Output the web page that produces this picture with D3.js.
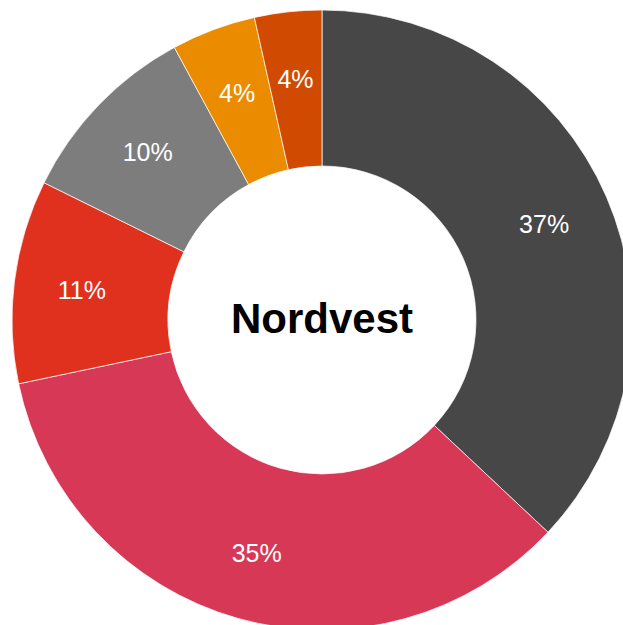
<!DOCTYPE html>
<meta charset="utf-8">
<style>
body { margin: 0; background: #fff; }
.arc path { stroke: #fff; stroke-width: 0.7; }
.arc text { font: 25px "Liberation Sans", Arial, sans-serif; fill: #fff; text-anchor: middle; }
</style>
<body>
<script src="https://d3js.org/d3.v7.min.js"></script>
<script>

width = 623;
height = 625;

categories = ["A", "B", "C", "D", "E", "F"];
values = [37.0, 34.7, 10.6, 9.8, 4.4, 3.5];
colorList = ['#474747', '#d73856', '#e0301e', '#7d7d7d', '#eb8c00', '#d04a02'];
title = "Nordvest";

data = categories.map((c, i) => ({name: c, value: values[i]}));
total = d3.sum(values);

cx = 322;
cy = 320;
outer = 310;
inner = 154;

colors = d3.scaleOrdinal()
    .domain(categories)
    .range(colorList);

pie = d3.pie()
    .sort(null)
    .value(d => d.value);

arc = d3.arc()
    .innerRadius(inner)
    .outerRadius(outer);

labelArc = d3.arc()
    .innerRadius(242)
    .outerRadius(242);

var svg = d3.select("body").append("svg")
    .attr("width", width)
    .attr("height", height);

g = svg.append("g")
    .attr("transform", "translate(" + cx + "," + cy + ")");

arcs = g.selectAll(".arc")
    .data(pie(data))
    .join("g")
      .attr("class", "arc");

arcs.append("path")
    .attr("d", arc)
    .style("fill", d => colors(d.data.name));

arcs.append("text")
    .attr("transform", d => "translate(" + labelArc.centroid(d) + ")")
    .attr("dy", "0.36em")
    .text(d => Math.round(d.data.value / total * 100) + "%");

g.append("text")
    .attr("y", 13)
    .attr("text-anchor", "middle")
    .style("font-family", '"Liberation Sans", Arial, sans-serif')
    .style("font-weight", "bold")
    .style("font-size", "42px")
    .style("fill", "#000")
    .text(title);

</script>
